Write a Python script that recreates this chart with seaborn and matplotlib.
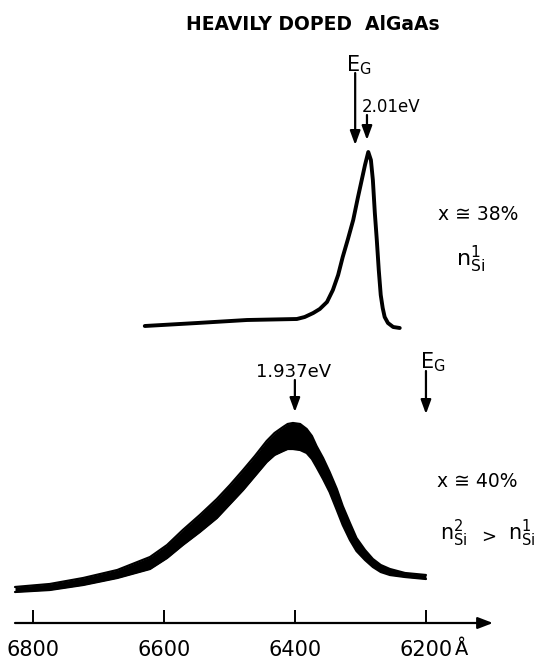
import matplotlib
matplotlib.use("Agg")
import matplotlib.pyplot as plt
import seaborn as sns

# ---------------- data ----------------
# upper spectrum: x ~ 38 %, n_Si^1  (wavelength in Angstrom, offset intensity in a.u.)
top_wavelength = [6629, 6549, 6473, 6397, 6385, 6372, 6362, 6351, 6342, 6334,
                  6327, 6319, 6311, 6304, 6298, 6293, 6288, 6284, 6281, 6278,
                  6275, 6272, 6269, 6266, 6263, 6258, 6250, 6240]
top_intensity = [2.97, 3.00, 3.03, 3.04, 3.06, 3.10, 3.14, 3.21, 3.33, 3.48,
                 3.66, 3.84, 4.03, 4.25, 4.43, 4.58, 4.71, 4.63, 4.43, 4.10,
                 3.83, 3.53, 3.28, 3.15, 3.06, 3.00, 2.96, 2.95]

# lower spectrum: x ~ 40 %, n_Si^2 > n_Si^1 (noisy trace: upper / lower envelope)
bottom_wavelength = [6827, 6774, 6723, 6671, 6621, 6595, 6571, 6545, 6519, 6499,
                     6479, 6461, 6443, 6431, 6418, 6411, 6403, 6392, 6382, 6374,
                     6367, 6357, 6347, 6336, 6327, 6316, 6306, 6293, 6281, 6269,
                     6255, 6232, 6200]
bottom_upper = [0.36, 0.39, 0.45, 0.53, 0.66, 0.78, 0.93, 1.08, 1.24, 1.38,
                1.53, 1.67, 1.82, 1.90, 1.96, 1.99, 2.00, 1.99, 1.94, 1.87,
                1.77, 1.65, 1.51, 1.34, 1.17, 1.00, 0.85, 0.73, 0.64, 0.58,
                0.54, 0.50, 0.48]
bottom_lower = [0.31, 0.33, 0.38, 0.45, 0.54, 0.65, 0.78, 0.91, 1.05, 1.19,
                1.33, 1.47, 1.61, 1.68, 1.72, 1.74, 1.74, 1.73, 1.70, 1.64,
                1.56, 1.44, 1.31, 1.13, 0.98, 0.83, 0.72, 0.63, 0.56, 0.51,
                0.48, 0.46, 0.44]

x_ticks = [6800, 6600, 6400, 6200]
x_tick_labels = ["6800", "6600", "6400", "6200"]

# marker arrows: (wavelength, label)
marker_wavelengths = [6308, 6290, 6400, 6200]
marker_labels = ["E_G", "2.01eV", "1.937eV", "E_G"]

title_text = "HEAVILY DOPED  AlGaAs"

# ---------------- figure ----------------
sns.set_theme(style="white")
plt.rcParams["font.family"] = ["DejaVu Sans"]
plt.rcParams["mathtext.fontset"] = "dejavusans"
plt.rcParams["text.color"] = "black"
plt.rcParams["xtick.color"] = "black"
plt.rcParams["xtick.labelcolor"] = "black"

W, H = 540, 659
fig = plt.figure(figsize=(W / 100, H / 100), dpi=100)
ax = fig.add_axes([0, 0, 1, 1])
ax.set_xlim(6849.9, 6026.0)
ax.set_ylim(-0.36, 6.23)


def ydat(py):
    return (623 - py) / 100.0


def fx(px):
    return px / W


def fy(py):
    return 1 - py / H


# spectra
sns.lineplot(x=top_wavelength, y=top_intensity, color="black", lw=2.8, ax=ax,
             sort=False, estimator=None)
ax.fill_between(bottom_wavelength, bottom_lower, bottom_upper, color="black", lw=0)
sns.lineplot(x=bottom_wavelength, y=bottom_upper, color="black", lw=1.6, ax=ax,
             sort=False, estimator=None)
sns.lineplot(x=bottom_wavelength, y=bottom_lower, color="black", lw=1.6, ax=ax,
             sort=False, estimator=None)

# x axis with arrow
for s in ax.spines.values():
    s.set_visible(False)
ax.spines["bottom"].set_position(("data", 0))
ax.set_xticks(x_ticks, x_tick_labels)
ax.set_yticks([])
ax.tick_params(axis="x", direction="in", length=9.4, width=1.4, pad=12,
               labelsize=15, colors="black", labelcolor="black", bottom=True)
ax.annotate("", xy=(6097.8, 0), xytext=(6827, 0),
            arrowprops=dict(arrowstyle="-|>,head_length=0.65,head_width=0.25",
                            lw=1.6, color="black", mutation_scale=14,
                            shrinkA=0, shrinkB=0))
fig.text(fx(455), fy(655), "Å", fontsize=14, ha="left", va="baseline")

# marker arrows
arrow_style = dict(arrowstyle="-|>,head_length=0.6,head_width=0.22", lw=1.6,
                   color="black", mutation_scale=14, shrinkA=0, shrinkB=0)
arrow_spans = [(73, 145), (115, 140), (380, 412), (371, 414)]
for wl, (y0, y1) in zip(marker_wavelengths, arrow_spans):
    ax.annotate("", xy=(wl, ydat(y1)), xytext=(wl, ydat(y0)), arrowprops=arrow_style)

# labels
fig.text(fx(313), fy(30), title_text, fontsize=13.5, fontweight="bold",
         ha="center", va="baseline")
fig.text(fx(346), fy(71), r"$\mathregular{E_{G}}$", fontsize=15, ha="left", va="baseline")
fig.text(fx(362), fy(112), marker_labels[1], fontsize=12, ha="left", va="baseline")
fig.text(fx(294), fy(377), marker_labels[2], fontsize=13, ha="center", va="baseline")
fig.text(fx(420), fy(368), r"$\mathregular{E_{G}}$", fontsize=15, ha="left", va="baseline")

fig.text(fx(438), fy(220), "x ≅ 38%", fontsize=13.5, ha="left", va="baseline")
fig.text(fx(437), fy(487), "x ≅ 40%", fontsize=13.5, ha="left", va="baseline")

fig.text(fx(456), fy(266), r"$\mathregular{n^{1}_{Si}}$", fontsize=16,
         ha="left", va="baseline")
fig.text(fx(440), fy(540), r"$\mathregular{n^{2}_{Si}}$", fontsize=15,
         ha="left", va="baseline")
fig.text(fx(481), fy(542), ">", fontsize=13, ha="left", va="baseline")
fig.text(fx(508), fy(540), r"$\mathregular{n^{1}_{Si}}$", fontsize=15,
         ha="left", va="baseline")

fig.savefig("out.png", dpi=100)
